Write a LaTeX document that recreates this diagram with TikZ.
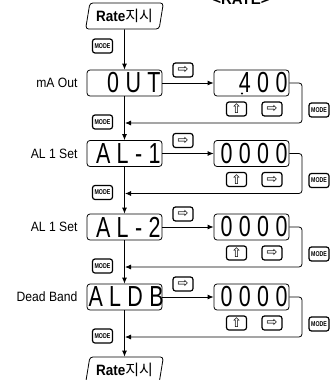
\documentclass[tikz,border=0pt]{standalone}
\usepackage{fontspec}
\setmainfont{Liberation Sans}
\newfontfamily\kofont{Noto Sans CJK KR}
\newfontfamily\segfont[FakeStretch=0.74,LetterSpace=22]{Liberation Sans}
\newfontfamily\labelfont[FakeStretch=0.9]{Liberation Sans}
\newfontfamily\keyfont[FakeStretch=0.75]{Liberation Sans}
\newfontfamily\symfont{DejaVu Sans}
\usetikzlibrary{arrows.meta,positioning,shapes.geometric}

\tikzset{
  flow/.style={draw, line width=0.8pt, -{Latex[length=6pt,width=5pt]}},
  display/.style={draw, line width=0.8pt, rounded corners=3pt, minimum width=75pt,
    minimum height=26pt, inner sep=1pt, text width=72pt, align=right,
    font=\segfont\fontsize{29}{29}\selectfont},
  ratebox/.style={draw, line width=0.8pt, rounded corners=3pt, trapezium,
    trapezium left angle=78, trapezium right angle=102, trapezium stretches=true,
    minimum width=78pt, minimum height=26pt, inner sep=2pt},
  modekey/.style={draw, line width=1.2pt, rounded corners=2.5pt, minimum width=20pt,
    minimum height=14pt, inner sep=0pt, font=\keyfont\bfseries\fontsize{7}{7}\selectfont},
  arrowkey/.style={draw, line width=1.2pt, rounded corners=2.5pt, minimum width=20pt,
    minimum height=14pt, inner sep=0pt, font=\symfont\fontsize{13}{13}\selectfont},
  rowlabel/.style={font=\labelfont\fontsize{13.5}{14}\selectfont, anchor=east}
}

\newcommand{\ratetext}{{\labelfont\bfseries\fontsize{15}{15}\selectfont Rate}{\kofont\fontsize{15}{15}\selectfont 지시}}

\begin{document}
\begin{tikzpicture}[x=1pt,y=-1pt]
\useasboundingbox (0,0) rectangle (332,380);

% title, cut at the top edge
\node[font=\bfseries\fontsize{15}{15}\selectfont, anchor=base] (title) at (241,5) {<RATE>};

% main column
\node[ratebox] (rtop) at (124.5,16) {\ratetext};
\node[display] (out) at (124.5,83) {0UT};
\node[display] (al1) at (124.5,153.5) {AL-1};
\node[display] (al2) at (124.5,227) {AL-2};
\node[display] (aldb) at (124.5,297) {ALDB};
\node[ratebox] (rbot) at (124.5,370) {\ratetext};

% row labels
\node[rowlabel] (lout) at (81,83) {mA Out};
\node[rowlabel] (lal1) at (81,153.5) {AL 1 Set};
\node[rowlabel] (lal2) at (81,227) {AL 1 Set};
\node[rowlabel] (ldb) at (81,297) {Dead Band};

% value displays
\node[display] (vout) at (251.5,83) {400};
\node[circle, fill, inner sep=0pt, minimum size=2.2pt] (dp) at (242,93.5) {};
\node[display] (val1) at (251.5,153.5) {0000};
\node[display] (val2) at (251.5,227) {0000};
\node[display] (vdb) at (251.5,297) {0000};

% keys
\node[modekey] (m0) at (102.5,46) {MODE};
\foreach \r/\y in {out/83,al1/153.5,al2/227,db/297}{
  \node[arrowkey] (s\r) at (183,\y-13) {⇨};
  \node[arrowkey] (u\r) at (236.5,\y+26) {⇧};
  \node[arrowkey] (n\r) at (272,\y+26) {⇨};
  \node[modekey] (mr\r) at (319,\y+27) {MODE};
  \node[modekey] (ml\r) at (102.5,\y+39) {MODE};
  \coordinate (j\r) at (125,\y+40);
}

% connectors down the column
\draw[flow] (rtop) -- (out);
\draw[flow] (out) -- (al1);
\draw[flow] (al1) -- (al2);
\draw[flow] (al2) -- (aldb);
\draw[flow] (aldb) -- (rbot);

% to the value displays
\draw[flow] (out) -- (vout);
\draw[flow] (al1) -- (val1);
\draw[flow] (al2) -- (val2);
\draw[flow] (aldb) -- (vdb);

% back to the column
\draw[flow, rounded corners=3pt] (vout.east) -- (302,83) |- (jout);
\draw[flow, rounded corners=3pt] (val1.east) -- (302,153.5) |- (jal1);
\draw[flow, rounded corners=3pt] (val2.east) -- (302,227) |- (jal2);
\draw[flow, rounded corners=3pt] (vdb.east) -- (302,297) |- (jdb);
\end{tikzpicture}
\end{document}
